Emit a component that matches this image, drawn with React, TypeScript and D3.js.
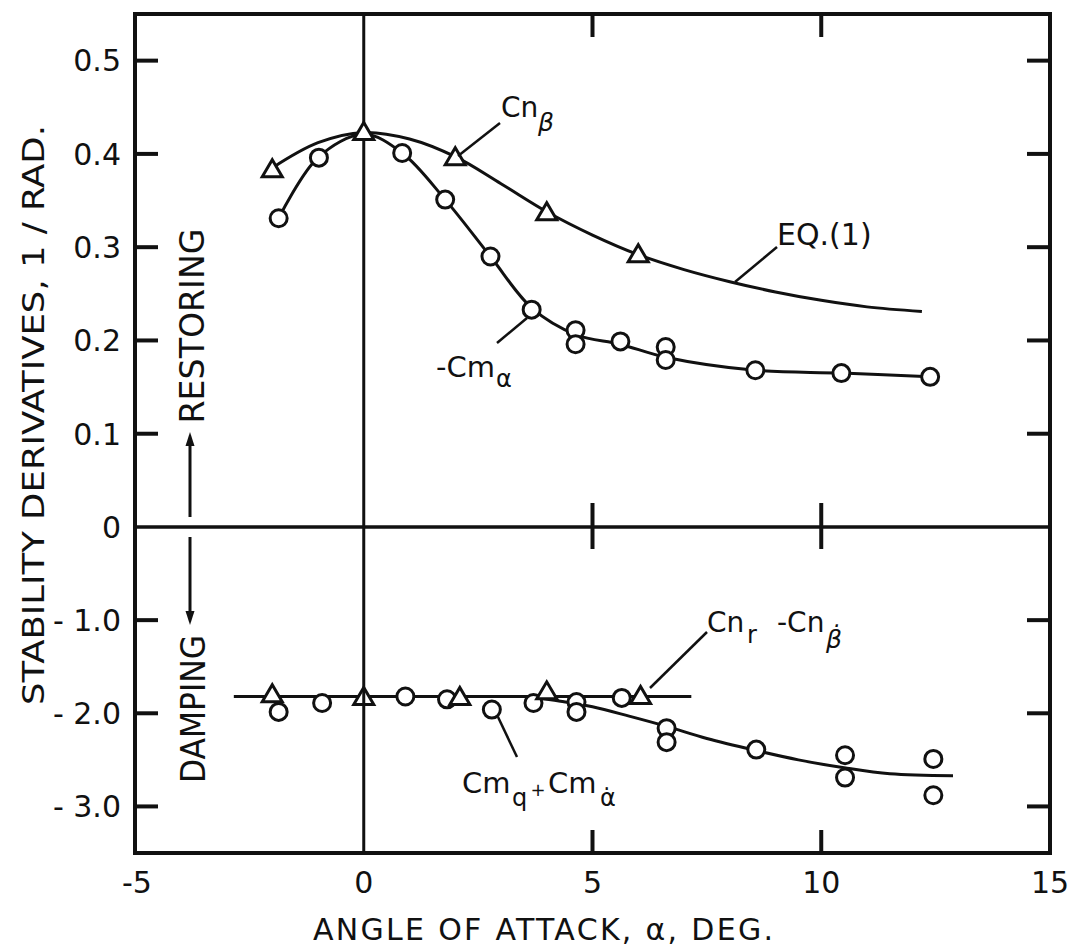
import React from "react";
import * as d3 from "d3";

// ---------- data ----------
const xTicks = [-5, 0, 5, 10, 15];
const yTicksUpper = [0.5, 0.4, 0.3, 0.2, 0.1];
const yTicksLower = [-1, -2, -3];
const yTickLabels = ["0.5", "0.4", "0.3", "0.2", "0.1", "0", "- 1.0", "- 2.0", "- 3.0"];
const yTickValues = [0.5, 0.4, 0.3, 0.2, 0.1, 0, -1, -2, -3];

// Cn_beta (triangles) and EQ.(1) curve
const cnBetaAlpha = [-2, 0, 2, 4, 6];
const cnBeta = [0.383, 0.423, 0.396, 0.337, 0.292];
const eq1Alpha = [-2, -1, 0, 1, 2, 3, 4, 5, 6, 7, 8, 9, 10, 11, 12.2];
const eq1 = [0.385, 0.412, 0.423, 0.416, 0.397, 0.368, 0.338, 0.313, 0.292, 0.276, 0.263, 0.252, 0.243, 0.236, 0.231];

// -Cm_alpha (circles) and faired curve
const cmAlphaAlpha = [-1.86, -0.98, 0.84, 1.78, 2.77, 3.67, 4.63, 4.63, 5.61, 6.6, 6.6, 8.56, 10.44, 12.38];
const negCmAlpha = [0.331, 0.396, 0.401, 0.351, 0.29, 0.233, 0.211, 0.196, 0.199, 0.193, 0.179, 0.168, 0.165, 0.161];
const cmFitAlpha = [-1.86, -1, 0, 0.84, 1.78, 2.77, 3.67, 4.65, 5.6, 6.6, 8.56, 10.44, 12.38];
const cmFit = [0.331, 0.396, 0.421, 0.401, 0.351, 0.29, 0.235, 0.206, 0.196, 0.182, 0.168, 0.165, 0.161];

// Cn_r - Cn_beta_dot (triangles) and horizontal fairing
const cnrAlpha = [-2, 0, 2.1, 4, 6.05];
const cnr = [-1.8, -1.83, -1.83, -1.77, -1.82];
const cnrFitAlpha = [-2.84, 7.16];
const cnrFit = [-1.82, -1.82];

// Cm_q + Cm_alpha_dot (circles) and faired curve
const cmqAlpha = [-1.86, -0.91, 0.91, 1.82, 2.8, 3.71, 4.65, 4.65, 5.64, 6.62, 6.62, 8.58, 10.52, 10.52, 12.45, 12.45];
const cmq = [-1.985, -1.89, -1.82, -1.85, -1.96, -1.89, -1.88, -1.985, -1.835, -2.16, -2.31, -2.39, -2.45, -2.69, -2.49, -2.88];
const cmqFitAlpha = [3.6, 4.3, 5.0, 5.8, 6.62, 7.5, 8.58, 9.5, 10.5, 11.5, 12.88];
const cmqFit = [-1.82, -1.87, -1.93, -2.03, -2.14, -2.27, -2.4, -2.5, -2.585, -2.65, -2.67];

// ---------- layout ----------
const W = 1072;
const H = 950;
const FONT = "'DejaVu Sans', Verdana, sans-serif";
const COND = "'DejaVu Sans Condensed', 'Liberation Sans Narrow', 'DejaVu Sans', sans-serif";

const x = d3.scaleLinear().domain([-5, 15]).range([135, 1050]);
const y = d3.scaleLinear().domain([-3.5, 0, 0.55]).range([853, 527, 14]);

const zip = (a: number[], b: number[]) => a.map((v, i) => [v, b[i]] as [number, number]);

const smooth = d3
  .line<[number, number]>()
  .x((d) => x(d[0]))
  .y((d) => y(d[1]))
  .curve(d3.curveCatmullRom.alpha(0.5));

const straight = d3
  .line<[number, number]>()
  .x((d) => x(d[0]))
  .y((d) => y(d[1]));

const tri = (cx: number, cy: number) =>
  `M${cx - 10},${cy + 7} L${cx + 10},${cy + 7} L${cx},${cy - 10} Z`;

export default function App() {
  const x0 = x(-5);
  const x1 = x(15);
  const yTop = y(0.55);
  const yBot = y(-3.5);
  const yZero = y(0);
  const sideTicks = [...yTicksUpper, ...yTicksLower];
  const stroke = "#111";

  return (
    <svg
      width={W}
      height={H}
      viewBox={`0 0 ${W} ${H}`}
      style={{ position: "absolute", left: 0, top: 0, background: "#fff" }}
    >
      <rect x={0} y={0} width={W} height={H} fill="#fff" />

      {/* frame */}
      <rect x={x0} y={yTop} width={x1 - x0} height={yBot - yTop} fill="none" stroke={stroke} strokeWidth={4} />
      {/* zero line and alpha = 0 line */}
      <line x1={x0} x2={x1} y1={yZero} y2={yZero} stroke={stroke} strokeWidth={3.5} />
      <line x1={x(0)} x2={x(0)} y1={yTop} y2={yBot} stroke={stroke} strokeWidth={3} />

      {/* side ticks */}
      {sideTicks.map((t) => (
        <g key={"yt" + t}>
          <line x1={x0} x2={x0 + 23} y1={y(t)} y2={y(t)} stroke={stroke} strokeWidth={4} />
          <line x1={x1 - 23} x2={x1} y1={y(t)} y2={y(t)} stroke={stroke} strokeWidth={4} />
        </g>
      ))}
      {/* x ticks top / bottom / on zero line */}
      {[5, 10].map((t) => (
        <g key={"xt" + t}>
          <line x1={x(t)} x2={x(t)} y1={yTop} y2={yTop + 23} stroke={stroke} strokeWidth={4} />
          <line x1={x(t)} x2={x(t)} y1={yBot - 23} y2={yBot} stroke={stroke} strokeWidth={4} />
          <line x1={x(t)} x2={x(t)} y1={yZero - 24} y2={yZero + 22} stroke={stroke} strokeWidth={4} />
        </g>
      ))}

      {/* y tick labels */}
      {yTickValues.map((v, i) => (
        <text
          key={"yl" + i}
          x={121}
          y={y(v)}
          dy="0.36em"
          textAnchor="end"
          fontFamily={FONT}
          fontSize={30}
          fill={stroke}
        >
          {yTickLabels[i]}
        </text>
      ))}
      {/* x tick labels */}
      {xTicks.map((t) => (
        <text
          key={"xl" + t}
          x={x(t) + (t === -5 ? 2 : 0)}
          y={893}
          textAnchor="middle"
          fontFamily={FONT}
          fontSize={30}
          fill={stroke}
        >
          {t}
        </text>
      ))}

      {/* axis titles */}
      <text
        x={313}
        y={940}
        fontFamily={FONT}
        fontSize={30}
        fill={stroke}
        textLength={460}
        lengthAdjust="spacing"
      >
        ANGLE OF ATTACK, α, DEG.
      </text>
      <text
        transform="translate(44,415) rotate(-90)"
        textAnchor="middle"
        fontFamily={COND}
        fontSize={31}
        fill={stroke}
        textLength={580}
        lengthAdjust="spacingAndGlyphs"
      >
        STABILITY  DERIVATIVES,  1 / RAD.
      </text>

      {/* RESTORING / DAMPING with arrows */}
      <text
        transform="translate(204,326) rotate(-90)"
        textAnchor="middle"
        fontFamily={COND}
        fontSize={34}
        fill={stroke}
        textLength={195}
        lengthAdjust="spacingAndGlyphs"
      >
        RESTORING
      </text>
      <line x1={190} x2={190} y1={517} y2={442} stroke={stroke} strokeWidth={3} />
      <path d="M190,432 L185.5,446 L194.5,446 Z" fill={stroke} />
      <text
        transform="translate(205,709) rotate(-90)"
        textAnchor="middle"
        fontFamily={COND}
        fontSize={34}
        fill={stroke}
        textLength={148}
        lengthAdjust="spacingAndGlyphs"
      >
        DAMPING
      </text>
      <line x1={190} x2={190} y1={537} y2={614} stroke={stroke} strokeWidth={3} />
      <path d="M190,625 L185.5,611 L194.5,611 Z" fill={stroke} />

      {/* curves */}
      <path d={smooth(zip(eq1Alpha, eq1)) || ""} fill="none" stroke={stroke} strokeWidth={3} />
      <path d={smooth(zip(cmFitAlpha, cmFit)) || ""} fill="none" stroke={stroke} strokeWidth={3} />
      <path d={straight(zip(cnrFitAlpha, cnrFit)) || ""} fill="none" stroke={stroke} strokeWidth={3} />
      <path d={smooth(zip(cmqFitAlpha, cmqFit)) || ""} fill="none" stroke={stroke} strokeWidth={3} />

      {/* markers */}
      {zip(cmAlphaAlpha, negCmAlpha).map((d, i) => (
        <circle key={"c1" + i} cx={x(d[0])} cy={y(d[1])} r={8.5} fill="#fff" stroke={stroke} strokeWidth={3} />
      ))}
      {zip(cmqAlpha, cmq).map((d, i) => (
        <circle key={"c2" + i} cx={x(d[0])} cy={y(d[1])} r={8.5} fill="#fff" stroke={stroke} strokeWidth={3} />
      ))}
      {zip(cnBetaAlpha, cnBeta).map((d, i) => (
        <path key={"t1" + i} d={tri(x(d[0]), y(d[1]))} fill="#fff" stroke={stroke} strokeWidth={3} strokeLinejoin="miter" />
      ))}
      {zip(cnrAlpha, cnr).map((d, i) => (
        <path key={"t2" + i} d={tri(x(d[0]), y(d[1]))} fill="#fff" stroke={stroke} strokeWidth={3} strokeLinejoin="miter" />
      ))}
      {/* alpha=0 line shows through the lower triangle */}
      <line x1={x(0)} x2={x(0)} y1={y(-1.83) - 9} y2={y(-1.83) + 7} stroke={stroke} strokeWidth={3} />

      {/* labels and leaders */}
      <line x1={500} y1={123} x2={458} y2={156} stroke={stroke} strokeWidth={2.5} />
      <text x={501} y={117} fontFamily={FONT} fontSize={28} fill={stroke}>
        Cn
      </text>
      <text x={538} y={131} fontFamily={FONT} fontSize={25} fontStyle="italic" fill={stroke}>
        β
      </text>

      <line x1={777} y1={247} x2={735} y2={282} stroke={stroke} strokeWidth={2.5} />
      <text x={777} y={245} fontFamily={FONT} fontSize={30} fill={stroke}>
        EQ.(1)
      </text>

      <line x1={497} y1={343} x2={527} y2={318} stroke={stroke} strokeWidth={2.5} />
      <text x={436} y={377} fontFamily={FONT} fontSize={29} fill={stroke}>
        -Cm
      </text>
      <text x={496} y={387} fontFamily={FONT} fontSize={24} fill={stroke}>
        α
      </text>

      <line x1={707} y1={632} x2={650} y2={688} stroke={stroke} strokeWidth={2.5} />
      <text x={707} y={632} fontFamily={FONT} fontSize={28} fill={stroke}>
        Cn
      </text>
      <text x={747} y={643} fontFamily={FONT} fontSize={24} fill={stroke}>
        r
      </text>
      <text x={777} y={632} fontFamily={FONT} fontSize={28} fill={stroke}>
        -Cn
      </text>
      <text x={826} y={648} fontFamily={FONT} fontSize={25} fontStyle="italic" fill={stroke}>
        β̇
      </text>

      <line x1={498} y1={717} x2={517} y2={757} stroke={stroke} strokeWidth={2.5} />
      <text x={462} y={793} fontFamily={FONT} fontSize={29} fill={stroke}>
        Cm
      </text>
      <text x={512} y={806} fontFamily={FONT} fontSize={24} fill={stroke}>
        q
      </text>
      <text x={538} y={796} textAnchor="middle" fontFamily={FONT} fontSize={18} fill={stroke}>
        +
      </text>
      <text x={548} y={793} fontFamily={FONT} fontSize={29} fill={stroke}>
        Cm
      </text>
      <text x={600} y={806} fontFamily={FONT} fontSize={24} fill={stroke}>
        α̇
      </text>
    </svg>
  );
}
